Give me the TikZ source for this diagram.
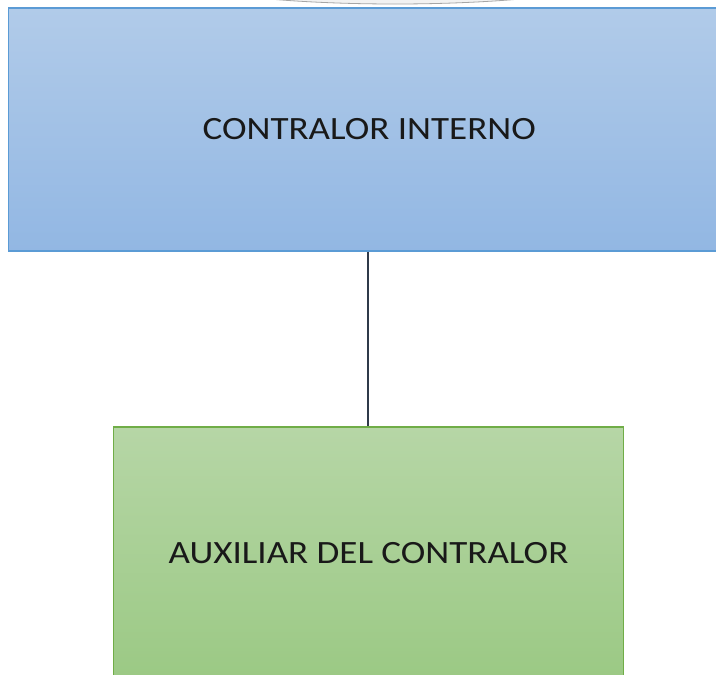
\documentclass[tikz,border=0pt]{standalone}
\usepackage{fontspec}
\setmainfont{Carlito}
\newfontfamily\boxfont[FakeStretch=1.14]{Carlito}
\begin{document}
\begin{tikzpicture}[x=1pt,y=-1pt,
  orgbox/.style={rectangle, line width=1.4pt, inner sep=0pt,
    font=\boxfont\fontsize{32.5}{38}\selectfont, text=black!90},
  link/.style={draw=linkgray, line width=1.6pt}]
\definecolor{bluetop}{HTML}{B1CBE9}
\definecolor{bluebot}{HTML}{92B7E3}
\definecolor{blueedge}{HTML}{5B9BD5}
\definecolor{greentop}{HTML}{B6D6A6}
\definecolor{greenbot}{HTML}{9BC984}
\definecolor{greenedge}{HTML}{70AD47}
\definecolor{linkgray}{HTML}{2F3A4A}
\useasboundingbox (0,0) rectangle (716,675);
\clip (0,0) rectangle (716,675);
\fill[white] (0,0) rectangle (716,675);
% edge of a shape above the chart
\draw[fill=black!5, draw=black!35, line width=0.8pt] (395,-40) ellipse [x radius=272, y radius=44];
% top position
\node[orgbox, draw=blueedge, top color=bluetop, bottom color=bluebot,
  minimum width=721.5, minimum height=243] (contralor) at (369.25,129.5) {CONTRALOR INTERNO};
% subordinate position
\node[orgbox, draw=greenedge, top color=greentop, bottom color=greenbot,
  minimum width=510, minimum height=253] (auxiliar) at (368.5,553.5) {AUXILIAR DEL CONTRALOR};
\draw[link] (contralor.south -| 368,0) -- (auxiliar.north -| 368,0);
\end{tikzpicture}
\end{document}
